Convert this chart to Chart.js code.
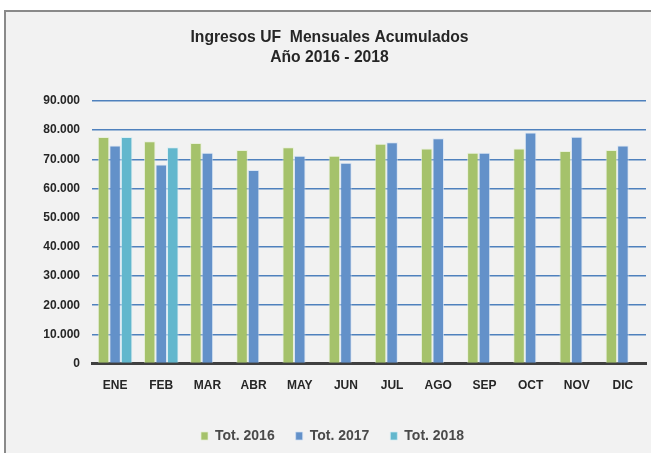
<!DOCTYPE html>
<html>
<head>
<meta charset="utf-8">
<script src="https://cdn.jsdelivr.net/npm/chart.js@4/dist/chart.umd.min.js"></script>
<style>
  html, body { margin: 0; padding: 0; background: #ffffff; }
  #frame {
    position: absolute; left: 4px; top: 10px; width: 700px; height: 500px;
    border: 2px solid #8a8a8a; background: #f2f2f2;
  }
  #wrap { position: absolute; left: 0; top: 0; width: 651px; height: 453px; }
</style>
</head>
<body>
<div id="frame"></div>
<div id="wrap"><canvas id="ingresos"></canvas></div>
<script>
// Ingresos UF mensuales acumulados
const meses = ['ENE', 'FEB', 'MAR', 'ABR', 'MAY', 'JUN', 'JUL', 'AGO', 'SEP', 'OCT', 'NOV', 'DIC'];
const tot2016 = [77600, 76200, 75600, 73200, 74100, 71200, 75300, 73700, 72200, 73700, 72800, 73200];
const tot2017 = [74700, 68200, 72200, 66300, 71200, 68800, 75800, 77200, 72200, 79200, 77700, 74700];
const tot2018 = [77600, 74100, null, null, null, null, null, null, null, null, null, null];
const yTicks = [0, 10000, 20000, 30000, 40000, 50000, 60000, 70000, 80000, 90000];

const sans = "'Liberation Sans', Arial, sans-serif";

function miles(v) {
  // 90000 -> 90.000
  return String(v).replace(/\B(?=(\d{3})+(?!\d))/g, '.');
}

const moverLeyenda = {
  id: 'moverLeyenda',
  afterLayout(chart) {
    chart.legend.left += 3;
    chart.legend.right += 3;
  }
};

const ctx = document.getElementById('ingresos').getContext('2d');
new Chart(ctx, {
  type: 'bar',
  data: {
    labels: meses,
    datasets: [
      {
        label: 'Tot. 2016',
        data: tot2016,
        backgroundColor: '#a5c26b',
        borderColor: 'rgba(230,240,210,0.7)',
        borderWidth: 1
      },
      {
        label: 'Tot. 2017',
        data: tot2017,
        backgroundColor: '#6391c9',
        borderColor: 'rgba(210,225,245,0.7)',
        borderWidth: 1
      },
      {
        label: 'Tot. 2018',
        data: tot2018,
        backgroundColor: '#62b7cd',
        borderColor: 'rgba(210,238,245,0.7)',
        borderWidth: 1
      }
    ]
  },
  options: {
    responsive: true,
    maintainAspectRatio: false,
    animation: false,
    categoryPercentage: 0.75,
    barPercentage: 1.0,
    layout: { padding: { left: 13, right: 5, top: 28, bottom: 0 } },
    plugins: {
      title: {
        display: true,
        text: ['Ingresos UF  Mensuales Acumulados', 'Año 2016 - 2018'],
        color: '#262626',
        font: { family: sans, size: 15.7, weight: 'bold', lineHeight: 1.27 },
        padding: { top: 0, bottom: 33 }
      },
      legend: {
        position: 'bottom',
        labels: {
          boxWidth: 7,
          boxHeight: 8,
          padding: 21,
          color: '#4a4a4a',
          font: { family: sans, size: 14, weight: 'bold' }
        }
      },
      tooltip: { enabled: false }
    },
    scales: {
      x: {
        grid: { display: false, drawTicks: false },
        border: { display: true, color: '#404040', width: 3 },
        ticks: {
          color: '#262626',
          padding: 15,
          font: { family: sans, size: 12, weight: 'bold' }
        }
      },
      y: {
        min: 0,
        max: 90000,
        afterBuildTicks(scale) {
          scale.ticks = yTicks.map(v => ({ value: v }));
        },
        afterFit(scale) {
          scale.width = 79;
        },
        grid: { color: '#4f81bd', lineWidth: 1.5, drawTicks: false },
        border: { display: false },
        ticks: {
          color: '#262626',
          padding: 12,
          font: { family: sans, size: 12, weight: 'bold' },
          callback: v => miles(v)
        }
      }
    }
  },
  plugins: [moverLeyenda]
});
</script>
</body>
</html>
